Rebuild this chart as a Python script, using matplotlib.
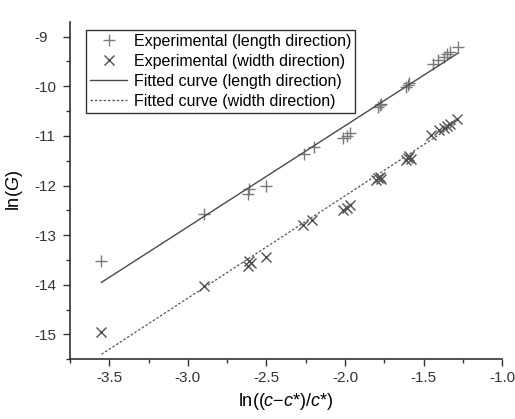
import matplotlib
matplotlib.use("Agg")
import numpy as np
import matplotlib.pyplot as plt
from matplotlib.ticker import MultipleLocator

plt.rcParams['font.family'] = ['Liberation Sans', 'DejaVu Sans']
plt.rcParams['mathtext.fontset'] = 'custom'
plt.rcParams['mathtext.rm'] = 'Liberation Sans'
plt.rcParams['mathtext.it'] = 'Liberation Sans:italic'
plt.rcParams['axes.unicode_minus'] = False

# length direction (+)
len_x = [-3.55, -2.90, -2.62, -2.61, -2.50, -2.26, -2.20, -2.01, -1.99, -1.97,
         -1.79, -1.78, -1.77, -1.61, -1.60, -1.59, -1.44, -1.41, -1.37, -1.35, -1.33, -1.28]
len_y = [-13.52, -12.58, -12.17, -12.06, -12.00, -11.36, -11.22, -11.04, -11.00, -10.94,
         -10.42, -10.38, -10.35, -10.02, -9.97, -9.93, -9.55, -9.46, -9.40, -9.35, -9.31, -9.21]

# width direction (x)
wid_x = [-3.55, -2.90, -2.62, -2.61, -2.60, -2.50, -2.27, -2.21, -2.01, -1.99, -1.97,
         -1.80, -1.79, -1.78, -1.77, -1.61, -1.60, -1.59, -1.58,
         -1.45, -1.40, -1.37, -1.35, -1.33, -1.29]
wid_y = [-14.95, -14.03, -13.62, -13.52, -13.56, -13.43, -12.80, -12.70, -12.50, -12.45, -12.40,
         -11.88, -11.84, -11.82, -11.86, -11.48, -11.44, -11.40, -11.46,
         -10.98, -10.88, -10.84, -10.80, -10.76, -10.66]

# fitted lines: y = a + b * x
len_fit = (-6.726, 2.035)
wid_fit = (-8.087, 2.06)

fig = plt.figure(figsize=(5.15, 4.19), dpi=100)
ax = fig.add_axes([0.136, 0.1425, 0.839, 0.8055])

ax.plot(len_x, len_y, '+', color='#7a7a7a', ms=8, mew=1.0,
        label='Experimental (length direction)')
ax.plot(wid_x, wid_y, 'x', color='#505050', ms=7, mew=1.0,
        label='Experimental (width direction)')

xs = np.array([min(len_x), max(len_x)])
ax.plot(xs, len_fit[0] + len_fit[1] * xs, '-', color='#4a4a4a', lw=1.0,
        label='Fitted curve (length direction)')
xs = np.array([min(wid_x), max(wid_x)])
ax.plot(xs, wid_fit[0] + wid_fit[1] * xs, '--', color='#555555', lw=0.9,
        dashes=(2, 1.5), label='Fitted curve (width direction)')

ax.set_xlim(-3.75, -1.0)
ax.set_ylim(-15.5, -8.7)
ax.xaxis.set_major_locator(MultipleLocator(0.5))
ax.xaxis.set_minor_locator(MultipleLocator(0.25))
ax.yaxis.set_major_locator(MultipleLocator(1))
ax.yaxis.set_minor_locator(MultipleLocator(0.5))
ax.tick_params(which='major', direction='out', length=5, width=1, labelsize=11, colors='#333333')
ax.tick_params(which='minor', direction='out', length=3, width=1, colors='#333333')
ax.tick_params(axis='y', which='major', pad=21)
for lab in ax.get_yticklabels():
    lab.set_horizontalalignment('left')
for s in ['top', 'right']:
    ax.spines[s].set_visible(False)
for s in ['left', 'bottom']:
    ax.spines[s].set_linewidth(1.2)
    ax.spines[s].set_color('#333333')

ax.set_xlabel(r'ln(($c$−$c$*)/$c$*)', fontsize=13, labelpad=4)
ax.set_ylabel(r'ln($G$)', fontsize=13)
ax.yaxis.set_label_coords(-0.105, 0.5)

leg = ax.legend(loc='upper left', bbox_to_anchor=(0.038, 0.977), fontsize=11.5,
                frameon=True, fancybox=False, edgecolor='black', handlelength=2.3,
                handletextpad=0.4, borderpad=0.25, labelspacing=0.32, borderaxespad=0)
leg.get_frame().set_linewidth(1.0)

fig.savefig('out.png', dpi=100)
